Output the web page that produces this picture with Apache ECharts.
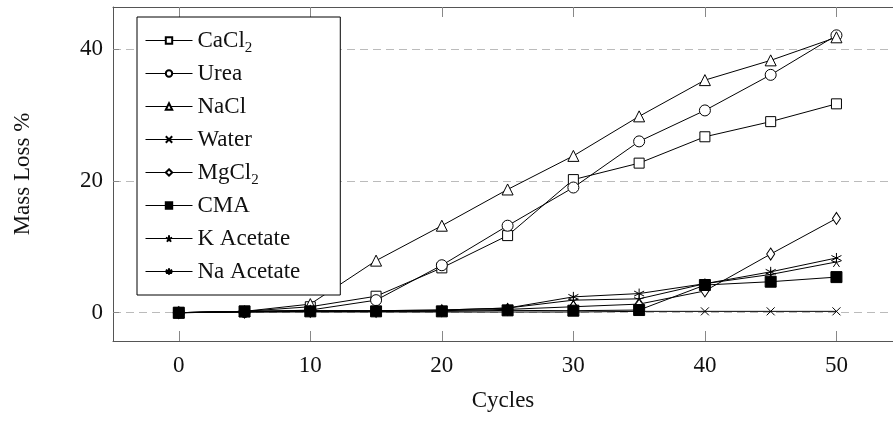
<!DOCTYPE html>
<html>
<head>
<meta charset="utf-8">
<script src="https://cdn.jsdelivr.net/npm/echarts@6/dist/echarts.min.js"></script>
<style>
  html, body { margin: 0; padding: 0; background: #fff; }
  #chart { width: 893px; height: 421px; }
</style>
</head>
<body>
<div id="chart"></div>
<script>
// Freeze–thaw test: mass loss (%) versus number of cycles, per de-icing solution
const cycles = [0, 5, 10, 15, 20, 25, 30, 35, 40, 45, 50];

const cacl2     = [0, 0.2, 0.9, 2.5, 6.8, 11.7, 20.2, 22.7, 26.7, 29.0, 31.7];
const urea      = [0, 0.1, 0.4, 1.9, 7.2, 13.2, 19.0, 26.0, 30.7, 36.1, 42.1];
const nacl      = [0, 0.2, 1.3, 7.9, 13.2, 18.7, 23.8, 29.8, 35.3, 38.3, 41.8];
const water     = [0, 0.1, 0.1, 0.1, 0.1, 0.1, 0.1, 0.2, 0.2, 0.2, 0.2];
const mgcl2     = [0, 0.1, 0.2, 0.2, 0.3, 0.5, 0.9, 1.3, 3.3, 8.9, 14.3];
const cma       = [0, 0.2, 0.2, 0.2, 0.2, 0.35, 0.3, 0.4, 4.2, 4.7, 5.4];
const kAcetate  = [0, 0.2, 0.3, 0.3, 0.4, 0.7, 1.9, 2.1, 4.4, 5.8, 7.7];
const naAcetate = [0, 0.2, 0.3, 0.3, 0.4, 0.7, 2.4, 2.9, 4.4, 6.2, 8.3];

const xTicks = [0, 10, 20, 30, 40, 50];
const yTicks = [0, 20, 40];

const FONT = '"Liberation Serif", "DejaVu Serif", serif';
const INK = '#111';

// Marker shapes drawn as stroked paths
const CROSS = 'path://M0 0L10 10M10 0L0 10';
const STAR5 = 'path://M5 5L5 0M5 5L9.76 3.45M5 5L7.94 9.05M5 5L2.06 9.05M5 5L0.24 3.45';
const STAR6 = 'path://M5 0L5 10M0.67 2.5L9.33 7.5M0.67 7.5L9.33 2.5';

function pairs(vals) {
  return cycles.map((c, i) => [c, vals[i]]);
}

function makeSeries(name, vals, symbol, size, fill) {
  return {
    name: name,
    type: 'line',
    xAxisIndex: 0,
    data: pairs(vals),
    symbol: symbol,
    symbolSize: size,
    showSymbol: true,
    showAllSymbol: true,
    smooth: false,
    animation: false,
    lineStyle: { color: '#000', width: 1 },
    itemStyle: { color: fill, borderColor: '#000', borderWidth: 1 },
    emphasis: { disabled: true }
  };
}

const series = [
  makeSeries('CaCl2', cacl2, 'rect', 10, '#fff'),
  makeSeries('Urea', urea, 'circle', 11, '#fff'),
  makeSeries('NaCl', nacl, 'triangle', 11, '#fff'),
  makeSeries('Water', water, CROSS, 8, '#000'),
  makeSeries('MgCl2', mgcl2, 'diamond', [8, 12], '#fff'),
  makeSeries('CMA', cma, 'rect', 11, '#000'),
  makeSeries('K Acetate', kAcetate, STAR5, 10, '#000'),
  makeSeries('Na Acetate', naAcetate, STAR6, 10, '#000')
];

const subscriptNames = { 'CaCl2': '{n|CaCl}{s|2}', 'MgCl2': '{n|MgCl}{s|2}' };

const frame = { show: true, onZero: false, lineStyle: { color: '#555', width: 1 } };
const xMin = -5, xMax = 54.3;

const chart = echarts.init(document.getElementById('chart'), null, { renderer: 'canvas' });
chart.setOption({
  animation: false,
  backgroundColor: '#fff',
  textStyle: { fontFamily: FONT, color: INK },
  grid: { left: 113, top: 7, right: 0, bottom: 80, containLabel: false },
  legend: {
    orient: 'vertical',
    left: 137,
    top: 17,
    padding: [8, 40, 8, 8],
    itemWidth: 47,
    itemHeight: 8,
    itemGap: 2,
    backgroundColor: '#fff',
    borderColor: '#000',
    borderWidth: 1,
    borderRadius: 0,
    selectedMode: false,
    lineStyle: { width: 1, color: '#000' },
    data: series.map(s => s.name),
    formatter: name => subscriptNames[name] || '{n|' + name + '}',
    textStyle: {
      fontFamily: FONT,
      color: INK,
      fontSize: 23,
      rich: {
        n: { fontFamily: FONT, fontSize: 23, color: INK, lineHeight: 22, padding: [4, 0, 4, 0] },
        s: { fontFamily: FONT, fontSize: 15, color: INK, lineHeight: 14, padding: [16, 0, 0, 0] }
      }
    }
  },
  xAxis: [
    {
      type: 'value',
      position: 'bottom',
      min: xMin,
      max: xMax,
      name: 'Cycles',
      nameLocation: 'middle',
      nameGap: 48,
      nameTextStyle: { fontFamily: FONT, fontSize: 23, color: INK },
      axisLine: frame,
      axisTick: { show: true, inside: true, length: 10, lineStyle: { color: '#888' }, customValues: xTicks },
      axisLabel: { fontFamily: FONT, fontSize: 23, color: INK, margin: 13, customValues: xTicks },
      splitLine: { show: false }
    },
    {
      type: 'value',
      position: 'top',
      min: xMin,
      max: xMax,
      axisLine: frame,
      axisTick: { show: true, inside: true, length: 10, lineStyle: { color: '#888' }, customValues: xTicks },
      axisLabel: { show: false },
      splitLine: { show: false }
    }
  ],
  yAxis: {
    type: 'value',
    min: -4.3,
    max: 46.4,
    name: 'Mass Loss %',
    nameLocation: 'middle',
    nameRotate: 90,
    nameGap: 79,
    nameTextStyle: { fontFamily: FONT, fontSize: 23, color: INK },
    axisLine: frame,
    axisTick: { show: true, inside: true, length: 6, lineStyle: { color: '#888' }, customValues: yTicks },
    axisLabel: { fontFamily: FONT, fontSize: 23, color: INK, margin: 10, customValues: yTicks },
    splitLine: { show: true, lineStyle: { color: '#bbb', width: 1, type: [8, 5] }, customValues: yTicks }
  },
  series: series
});
</script>
</body>
</html>
